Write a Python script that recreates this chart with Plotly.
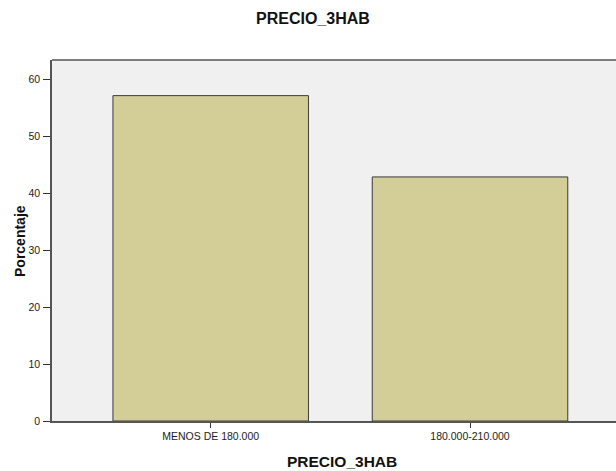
import plotly.graph_objects as go

# Frequency table for PRECIO_3HAB (percent of cases)
categories = ["MENOS DE 180.000", "180.000-210.000"]
percentages = [57.14, 42.86]
y_ticks = [0, 10, 20, 30, 40, 50, 60]

fig = go.Figure(
    go.Bar(
        x=categories,
        y=percentages,
        marker=dict(color="#D3CE98", line=dict(color="#3a3a3a", width=1)),
        hoverinfo="x+y",
    )
)

font_family = "Liberation Sans, Arial, sans-serif"

fig.update_layout(
    width=616,
    height=471,
    margin=dict(l=52, r=0, t=60, b=50),
    paper_bgcolor="white",
    plot_bgcolor="#F0F0F0",
    bargap=0.246,
    showlegend=False,
    font=dict(family=font_family, color="#222"),
    xaxis=dict(
        range=[-0.612, 1.563],
        showline=True,
        linecolor="#555",
        linewidth=1.5,
        ticks="outside",
        ticklen=5,
        tickcolor="#333",
        tickfont=dict(size=10.5, color="#222"),
        showgrid=False,
        zeroline=False,
        fixedrange=True,
    ),
    yaxis=dict(
        range=[0, 63.4],
        tickvals=y_ticks,
        showline=True,
        linecolor="#555",
        linewidth=1.5,
        ticks="outside",
        ticklen=7,
        tickcolor="#333",
        tickfont=dict(size=10.5, color="#222"),
        ticklabelstandoff=1,
        showgrid=False,
        zeroline=False,
        fixedrange=True,
    ),
    shapes=[
        dict(type="line", xref="paper", yref="paper", x0=0, x1=1, y0=1, y1=1,
             line=dict(color="#555", width=1.5)),
    ],
    annotations=[
        dict(text="<b>PRECIO_3HAB</b>", xref="paper", yref="paper", x=(313 - 52) / 564,
             y=1 + (60 - 19) / 361, showarrow=False, xanchor="center", yanchor="middle",
             font=dict(size=16, color="#111")),
        dict(text="<b>PRECIO_3HAB</b>", xref="paper", yref="paper", x=(342 - 52) / 564,
             y=-(461 - 421) / 361, showarrow=False, xanchor="center", yanchor="middle",
             font=dict(size=15.5, color="#111")),
        dict(text="<b>Porcentaje</b>", xref="paper", yref="paper", x=-(52 - 20) / 564,
             y=(421 - 241) / 361, showarrow=False, xanchor="center", yanchor="middle",
             textangle=-90, font=dict(size=14, color="#111")),
    ],
)

fig.write_html("out.html")
